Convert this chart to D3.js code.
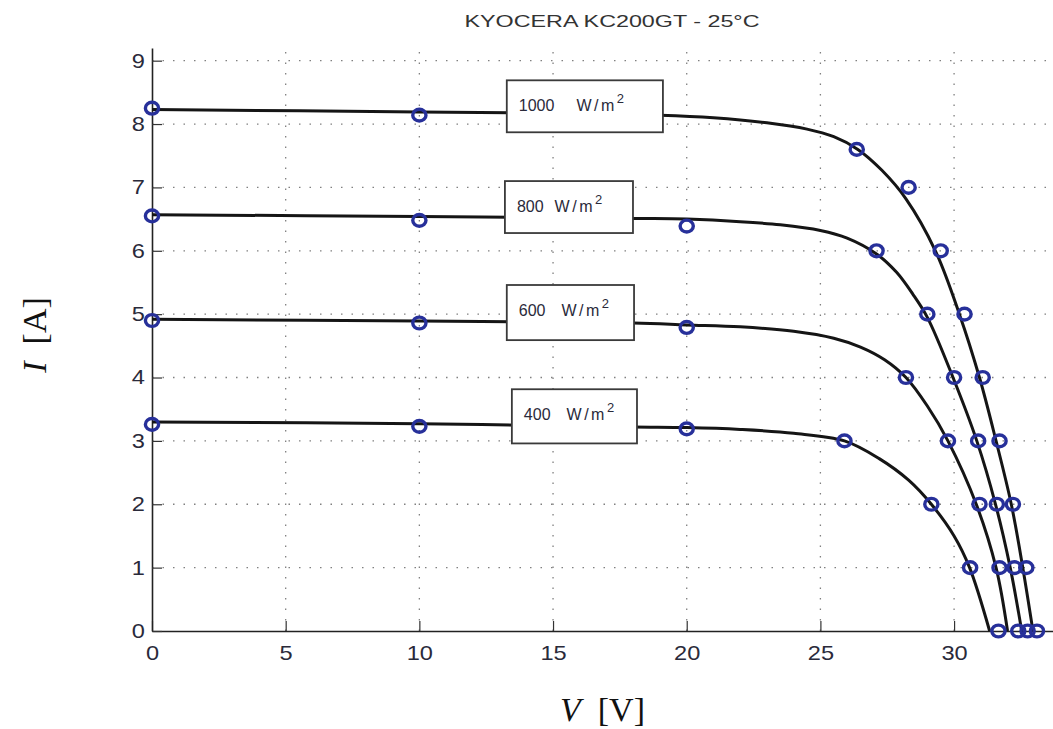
<!DOCTYPE html>
<html>
<head>
<meta charset="utf-8">
<script src="https://cdn.jsdelivr.net/npm/d3@7/dist/d3.min.js"></script>
<style>
  body { margin: 0; background: #fff; }
</style>
</head>
<body>
<div id="chart"></div>
<script>
// KYOCERA KC200GT I-V curves
const title = "KYOCERA KC200GT - 25°C";
const xTicks = [0, 5, 10, 15, 20, 25, 30];
const yTicks = [0, 1, 2, 3, 4, 5, 6, 7, 8, 9];
const irradiance = [1000, 800, 600, 400];

// model curves
const model1000V = [0, 10, 15, 19, 21, 23, 24.5, 25.5, 26.4, 27.3, 28.2, 29.3, 30.2, 30.95, 31.57, 32.14, 32.57, 32.95];
const model1000I = [8.23, 8.19, 8.17, 8.14, 8.1, 8.02, 7.92, 7.8, 7.6, 7.27, 6.82, 6.0, 5.0, 4.0, 3.0, 2.0, 1.0, 0];
const model800V  = [0, 10, 18, 20, 22, 23.5, 25, 26, 27.1, 27.85, 28.45, 29.0, 29.96, 30.85, 31.55, 32.1, 32.53];
const model800I  = [6.57, 6.54, 6.51, 6.5, 6.46, 6.41, 6.32, 6.2, 5.95, 5.66, 5.32, 4.95, 4.0, 3.0, 2.0, 1.0, 0];
const model600V  = [0, 10, 18, 20, 22, 24, 25.5, 26.5, 27.4, 28.2, 29.0, 29.77, 30.83, 31.57, 32.0];
const model600I  = [4.92, 4.89, 4.86, 4.83, 4.8, 4.73, 4.62, 4.48, 4.28, 4.0, 3.55, 3.0, 2.0, 1.0, 0];
const model400V  = [0, 10, 18, 20, 22, 24, 25.9, 27.2, 28.3, 29.15, 30.0, 30.58, 31.33];
const model400I  = [3.30, 3.27, 3.22, 3.21, 3.18, 3.12, 3.0, 2.72, 2.38, 2.0, 1.5, 1.0, 0];

// measured points
const meas1000V = [0, 10, 26.36, 28.3, 29.5, 30.39, 31.07, 31.7, 32.2, 32.7, 33.1];
const meas1000I = [8.25, 8.14, 7.6, 7.0, 6.0, 5.0, 4.0, 3.0, 2.0, 1.0, 0];
const meas800V  = [0, 10, 20, 27.1, 29.0, 30.0, 30.9, 31.6, 32.26, 32.75];
const meas800I  = [6.55, 6.48, 6.39, 6.0, 5.0, 4.0, 3.0, 2.0, 1.0, 0];
const meas600V  = [0, 10, 20, 28.2, 29.77, 30.95, 31.7, 32.4];
const meas600I  = [4.9, 4.86, 4.79, 4.0, 3.0, 2.0, 1.0, 0];
const meas400V  = [0, 10, 20, 25.9, 29.15, 30.6, 31.66];
const meas400I  = [3.26, 3.23, 3.19, 3.0, 2.0, 1.0, 0];

// label boxes in data units: [V left, V right, I top, I bottom]
const labelBox = [
  [13.27, 19.11, 8.69, 7.87],
  [13.2, 17.99, 7.10, 6.28],
  [13.27, 18.03, 5.46, 4.59],
  [13.46, 18.14, 3.815, 2.96]
];
const labelGap = [18, 7, 12, 12];

const zip = (vs, is) => vs.map((v, i) => ({ v, i: is[i] }));
const models = [zip(model1000V, model1000I), zip(model800V, model800I), zip(model600V, model600I), zip(model400V, model400I)];
const meas = [zip(meas1000V, meas1000I), zip(meas800V, meas800I), zip(meas600V, meas600I), zip(meas400V, meas400I)];

const W = 1053, H = 729;
const margin = { top: 48, right: 0, bottom: 98, left: 152 };
const sans = "Liberation Sans, Arial, sans-serif";
const serif = "Liberation Serif, Times New Roman, serif";

const x = d3.scaleLinear().domain([0, 33.7]).range([margin.left, W - margin.right]);
const y = d3.scaleLinear().domain([0, 9.2]).range([H - margin.bottom, margin.top]);

const svg = d3.select("#chart").append("svg")
  .attr("width", W).attr("height", H)
  .attr("font-family", sans);

// grid
const grid = svg.append("g").attr("stroke", "#808080").attr("stroke-width", 1.3)
  .attr("stroke-dasharray", "1.5,9");
grid.selectAll("line.gx").data(xTicks.filter(d => d > 0)).join("line")
  .attr("x1", d => x(d)).attr("x2", d => x(d))
  .attr("y1", y(0)).attr("y2", y(9.2));
grid.selectAll("line.gy").data(yTicks.filter(d => d > 0)).join("line")
  .attr("x1", x(0)).attr("x2", W)
  .attr("y1", d => y(d)).attr("y2", d => y(d));

// axes
const sx = 1.18; // reference text is a bit stretched horizontally
svg.append("g")
  .attr("transform", `translate(0,${y(0)})`)
  .call(d3.axisBottom(x).tickValues(xTicks).tickSize(-10).tickPadding(10).tickSizeOuter(0))
  .call(g => g.select(".domain").attr("stroke", "#222").attr("stroke-width", 1.6))
  .call(g => g.selectAll(".tick line").attr("stroke", "#333").attr("stroke-width", 1.2))
  .call(g => g.selectAll(".tick text").attr("font-size", 20).attr("fill", "#2a2a3a")
    .attr("font-family", sans)
    .attr("transform", `scale(${sx},1)`).attr("dy", "0.95em"));

svg.append("g")
  .attr("transform", `translate(${x(0)},0)`)
  .call(d3.axisLeft(y).tickValues(yTicks).tickSize(-10).tickPadding(6).tickSizeOuter(0))
  .call(g => g.select(".domain").attr("stroke", "#222").attr("stroke-width", 1.6))
  .call(g => g.selectAll(".tick line").attr("stroke", "#333").attr("stroke-width", 1.2))
  .call(g => g.selectAll(".tick text").attr("font-size", 20).attr("fill", "#2a2a3a")
    .attr("font-family", sans)
    .attr("transform", `scale(${sx},1)`));

// model lines
const line = d3.line().x(d => x(d.v)).y(d => y(d.i)).curve(d3.curveCatmullRom.alpha(0.5));
svg.append("g").selectAll("path").data(models).join("path")
  .attr("d", line).attr("fill", "none").attr("stroke", "#151515").attr("stroke-width", 3);

// measured circles
svg.append("g").selectAll("g").data(meas).join("g")
  .selectAll("ellipse").data(d => d).join("ellipse")
  .attr("cx", d => x(d.v)).attr("cy", d => y(d.i)).attr("rx", 6.6).attr("ry", 5.9)
  .attr("fill", "none").attr("stroke", "#27309a").attr("stroke-width", 3.4);

// label boxes
const lab = svg.append("g").selectAll("g").data(irradiance).join("g");
lab.append("rect")
  .attr("x", (d, k) => x(labelBox[k][0]))
  .attr("y", (d, k) => y(labelBox[k][2]))
  .attr("width", (d, k) => x(labelBox[k][1]) - x(labelBox[k][0]))
  .attr("height", (d, k) => y(labelBox[k][3]) - y(labelBox[k][2]))
  .attr("fill", "#fff").attr("stroke", "#3a3a3a").attr("stroke-width", 1.8);
lab.append("text")
  .attr("x", (d, k) => x(labelBox[k][0]) + 12)
  .attr("y", (d, k) => y(labelBox[k][2]) + 31)
  .attr("font-size", 16).attr("fill", "#2a2a3a")
  .call(t => t.append("tspan").text(d => d))
  .call(t => t.append("tspan").attr("dx", (d, k) => labelGap[k] + 4).attr("letter-spacing", 2.5).text("W/m"))
  .call(t => t.append("tspan").attr("dy", -8).attr("font-size", 13).text("2"));

// title
svg.append("text")
  .attr("x", 612).attr("y", 27).attr("text-anchor", "middle")
  .attr("font-size", 16).attr("fill", "#333")
  .attr("textLength", 295).attr("lengthAdjust", "spacingAndGlyphs")
  .text(title);

// axis labels
const xl = svg.append("text")
  .attr("x", (x(0) + W) / 2).attr("y", 721).attr("text-anchor", "middle")
  .attr("font-family", serif).attr("font-size", 34).attr("fill", "#111");
xl.append("tspan").attr("font-style", "italic").text("V");
xl.append("tspan").text("\u2002[V]");

const yl = svg.append("text")
  .attr("transform", `translate(46,335) rotate(-90)`).attr("text-anchor", "middle")
  .attr("font-family", serif).attr("font-size", 34).attr("fill", "#111");
yl.append("tspan").attr("font-style", "italic").text("I");
yl.append("tspan").text("\u2002[A]");
</script>
</body>
</html>
